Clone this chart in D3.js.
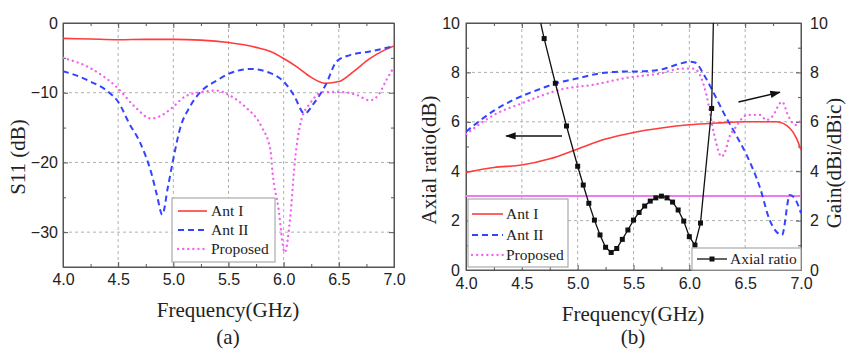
<!DOCTYPE html>
<html><head><meta charset="utf-8">
<script src="https://cdn.jsdelivr.net/npm/d3@7"></script>
<style>body{margin:0;background:#fff}svg{display:block}</style>
</head><body><svg id="c" width="848" height="352"></svg>
<script>
// ---------- Data ----------
// (a) S11 (dB)
const s11AntI_f = [4.0,4.25,4.5,4.75,5.0,5.25,5.5,5.75,5.88,6.0,6.12,6.24,6.38,6.5,6.63,6.78,6.9,7.0];
const s11AntI_v = [-2.2,-2.3,-2.4,-2.35,-2.35,-2.45,-2.8,-3.5,-4.1,-5.1,-6.3,-7.7,-8.65,-8.4,-7.0,-5.1,-4.0,-3.3];
const s11AntII_f = [4.0,4.25,4.42,4.5,4.6,4.7,4.8,4.85,4.9,4.95,5.0,5.06,5.15,5.24,5.4,5.5,5.7,5.88,6.0,6.09,6.19,6.27,6.38,6.48,6.6,6.78,7.0];
const s11AntII_v = [-6.9,-8.4,-10.0,-11.3,-14.4,-17.2,-21.5,-24.6,-27.5,-23.6,-19.5,-15.2,-12.0,-10.0,-8.2,-7.3,-6.6,-7.2,-8.4,-10.3,-13.0,-11.6,-8.9,-5.5,-4.6,-4.1,-3.3];
const s11Prop_f = [4.0,4.25,4.5,4.65,4.8,4.9,5.0,5.1,5.25,5.4,5.5,5.65,5.8,5.88,5.9,5.95,6.01,6.06,6.1,6.16,6.24,6.36,6.52,6.66,6.78,6.86,6.93,7.0];
const s11Prop_v = [-5.0,-6.5,-9.4,-12.0,-13.7,-13.2,-12.0,-10.6,-9.9,-9.7,-10.3,-12.0,-14.9,-18.2,-21.6,-26.3,-32.9,-27.8,-20.1,-13.9,-11.5,-9.9,-9.9,-10.3,-11.1,-10.3,-8.2,-6.3];

// (b) Gain (dBi/dBic)
const gAntI_f = [4.0,4.25,4.5,4.75,5.0,5.25,5.5,5.75,6.0,6.25,6.5,6.78,6.9,6.96,7.0];
const gAntI_v = [3.95,4.15,4.25,4.5,4.9,5.3,5.57,5.75,5.88,5.95,6.0,6.0,5.74,5.33,4.86];
const gAntII_f = [4.0,4.25,4.42,4.6,4.81,5.0,5.2,5.38,5.56,5.75,5.9,6.0,6.05,6.14,6.22,6.31,6.41,6.52,6.63,6.72,6.83,6.9,6.96,7.0];
const gAntII_v = [5.6,6.45,6.88,7.22,7.56,7.76,7.96,8.03,8.04,8.12,8.33,8.43,8.4,7.83,7.15,6.34,5.53,4.59,3.37,2.02,1.42,3.04,2.77,2.3];
const gProp_f = [4.0,4.25,4.5,4.69,4.84,5.14,5.44,5.74,5.93,6.04,6.15,6.22,6.29,6.32,6.36,6.41,6.52,6.63,6.69,6.74,6.83,6.89,6.95,7.0];
const gProp_v = [5.5,6.28,6.75,7.08,7.3,7.5,7.78,7.96,8.15,8.15,7.15,5.53,4.59,4.79,5.4,5.75,6.28,6.28,6.07,6.2,6.81,6.2,5.87,6.07];

// (b) Axial ratio (dB)
const arF = [4.669,4.7,4.8,4.9,5.0,5.05,5.1,5.15,5.2,5.25,5.3,5.35,5.4,5.45,5.5,5.55,5.6,5.65,5.7,5.75,5.8,5.85,5.9,5.95,6.0,6.05,6.1,6.2,6.215];
const arV = [10,9.37,7.56,5.83,4.2,3.44,2.7,2.02,1.42,0.92,0.71,0.87,1.24,1.62,2.02,2.33,2.59,2.79,2.92,2.99,2.92,2.75,2.43,1.98,1.35,1.01,1.9,6.54,10];
const arLimit = 3;

const freqTicks = [4.0,4.5,5.0,5.5,6.0,6.5,7.0];
const s11Ticks = [0,-10,-20,-30];
const arTicks = [0,2,4,6,8,10];
const legendNames = ["Ant I","Ant II","Proposed"];

// ---------- Styles ----------
const C = {red:"#ff3b3b", blue:"#3344ff", pink:"#f25ff2", black:"#111"};
const serif = "'Liberation Serif','Times New Roman',serif";
const sans = "'Liberation Sans',Arial,sans-serif";
const svg = d3.select("#c");

function zip(f,v){return f.map((x,i)=>[x,v[i]]);}

function panel(o){
  const x = d3.scaleLinear().domain([4,7]).range([o.x0,o.x1]);
  const y = d3.scaleLinear().domain(o.yDomain).range([o.y1,o.y0]);
  const g = svg.append("g");
  const id = "clip"+o.name;
  svg.append("clipPath").attr("id",id).append("rect")
    .attr("x",o.x0).attr("y",o.y0).attr("width",o.x1-o.x0).attr("height",o.y1-o.y0);
  const gx = freqTicks.filter(t=>t>4&&t<7);
  g.selectAll(".gx").data(gx).join("line")
    .attr("x1",d=>x(d)).attr("x2",d=>x(d)).attr("y1",o.y0).attr("y2",o.y1)
    .attr("stroke","#b0b0b0").attr("stroke-dasharray","3,3").attr("stroke-width",1);
  const gy = o.yTicks.filter(t=>t>o.yDomain[0]&&t<o.yDomain[1]);
  g.selectAll(".gy").data(gy).join("line")
    .attr("y1",d=>y(d)).attr("y2",d=>y(d)).attr("x1",o.x0).attr("x2",o.x1)
    .attr("stroke","#b0b0b0").attr("stroke-dasharray","3,3").attr("stroke-width",1);
  const axB = d3.axisBottom(x).tickValues(freqTicks).tickFormat(d3.format(".1f")).tickSizeInner(-5).tickSizeOuter(0).tickPadding(o.padB);
  const axT = d3.axisTop(x).tickValues(freqTicks).tickFormat("").tickSizeInner(-5).tickSizeOuter(0);
  const axL = d3.axisLeft(y).tickValues(o.yTicks).tickFormat(d3.format("d")).tickSizeInner(-5).tickSizeOuter(0).tickPadding(o.padL);
  const axR = d3.axisRight(y).tickValues(o.yTicks).tickFormat(o.rightLabels?d3.format("d"):"").tickSizeInner(-5).tickSizeOuter(0).tickPadding(9);
  const minorX = d3.range(4.25,7,0.5);
  const minorY = o.minorY;
  const mB = d3.axisBottom(x).tickValues(minorX).tickFormat("").tickSizeInner(-3).tickSizeOuter(0);
  const mT = d3.axisTop(x).tickValues(minorX).tickFormat("").tickSizeInner(-3).tickSizeOuter(0);
  const mL = d3.axisLeft(y).tickValues(minorY).tickFormat("").tickSizeInner(-3).tickSizeOuter(0);
  const mR = d3.axisRight(y).tickValues(minorY).tickFormat("").tickSizeInner(-3).tickSizeOuter(0);
  const add=(ax,tr)=>{const a=g.append("g").attr("transform",tr).call(ax);
    a.select(".domain").attr("stroke","#555");a.selectAll(".tick line").attr("stroke","#555");
    a.selectAll("text").attr("font-family",sans).attr("font-size",16).attr("fill","#222");return a;};
  add(axB,`translate(0,${o.y1})`); add(axT,`translate(0,${o.y0})`);
  add(axL,`translate(${o.x0},0)`); add(axR,`translate(${o.x1},0)`);
  add(mB,`translate(0,${o.y1})`); add(mT,`translate(0,${o.y0})`);
  add(mL,`translate(${o.x0},0)`); add(mR,`translate(${o.x1},0)`);
  g.append("rect").attr("x",o.x0).attr("y",o.y0).attr("width",o.x1-o.x0).attr("height",o.y1-o.y0)
    .attr("fill","none").attr("stroke","#555").attr("stroke-width",1);
  const plot = svg.append("g").attr("clip-path",`url(#${id})`);
  return {x,y,g,plot};
}

const line = (x,y,curve)=>d3.line().x(d=>x(d[0])).y(d=>y(d[1])).curve(curve||d3.curveMonotoneX);
const styles = [
  {stroke:C.red, width:1.6, dash:null, cap:"butt"},
  {stroke:C.blue, width:2, dash:"6,4", cap:"butt"},
  {stroke:C.pink, width:2.3, dash:"0.1,5", cap:"round"}
];
function drawSeries(p, series){
  series.forEach((s,i)=>{
    p.plot.append("path").datum(s).attr("d",line(p.x,p.y))
      .attr("fill","none").attr("stroke",styles[i].stroke).attr("stroke-width",styles[i].width)
      .attr("stroke-dasharray",styles[i].dash).attr("stroke-linecap",styles[i].cap);
  });
}
function legend(x0,y0,w,h,rows,lineX0,lineX1,textX,fs){
  svg.append("rect").attr("x",x0).attr("y",y0).attr("width",w).attr("height",h)
    .attr("fill","#fff").attr("stroke","#aaa").attr("stroke-width",1.2);
  legendNames.forEach((n,i)=>{
    svg.append("line").attr("x1",lineX0).attr("x2",lineX1).attr("y1",rows[i]).attr("y2",rows[i])
      .attr("stroke",styles[i].stroke).attr("stroke-width",styles[i].width)
      .attr("stroke-dasharray",styles[i].dash).attr("stroke-linecap",styles[i].cap);
    svg.append("text").attr("x",textX).attr("y",rows[i]+5).text(n)
      .attr("font-family",serif).attr("font-size",fs).attr("fill","#222");
  });
}

// ---------- Panel (a) ----------
const pa = panel({name:"a",x0:63,x1:394,y0:23,y1:267,yDomain:[-35,0],yTicks:s11Ticks,minorY:[-5,-15,-25],rightLabels:false,padB:7,padL:5});
drawSeries(pa,[zip(s11AntI_f,s11AntI_v),zip(s11AntII_f,s11AntII_v),zip(s11Prop_f,s11Prop_v)]);
legend(172,198,103,64,[211,230,249],178,207,211,15.5);
svg.append("text").attr("transform","translate(25,157) rotate(-90)").attr("text-anchor","middle")
  .attr("font-family",serif).attr("font-size",21).attr("fill","#222").text("S11 (dB)");
svg.append("text").attr("x",228).attr("y",317).attr("text-anchor","middle")
  .attr("font-family",serif).attr("font-size",21).attr("fill","#222").text("Frequency(GHz)");
svg.append("text").attr("x",228).attr("y",344).attr("text-anchor","middle")
  .attr("font-family",serif).attr("font-size",21).attr("fill","#222").text("(a)");

// ---------- Panel (b) ----------
const pb = panel({name:"b",x0:466,x1:801,y0:23,y1:270,yDomain:[0,10],yTicks:arTicks,minorY:[1,3,5,7,9],rightLabels:true,padB:8,padL:6});
pb.plot.append("line").attr("x1",pb.x(4)).attr("x2",pb.x(7)).attr("y1",pb.y(arLimit)).attr("y2",pb.y(arLimit))
  .attr("stroke","#f07af0").attr("stroke-width",2);
drawSeries(pb,[zip(gAntI_f,gAntI_v),zip(gAntII_f,gAntII_v),zip(gProp_f,gProp_v)]);
const arData = zip(arF,arV);
pb.plot.append("path").datum(arData).attr("d",line(pb.x,pb.y,d3.curveLinear))
  .attr("fill","none").attr("stroke",C.black).attr("stroke-width",1.3);
pb.plot.selectAll(".mk").data(arData.filter(d=>d[1]<9.99)).join("rect")
  .attr("x",d=>pb.x(d[0])-2.5).attr("y",d=>pb.y(d[1])-2.5).attr("width",5).attr("height",5).attr("fill",C.black);
legend(468,199,100,68,[214,235,255],472,503,506,15.5);
svg.append("rect").attr("x",692).attr("y",248).attr("width",109).attr("height",22)
  .attr("fill","#fff").attr("stroke","#aaa").attr("stroke-width",1.2);
svg.append("line").attr("x1",697).attr("x2",727).attr("y1",259).attr("y2",259).attr("stroke",C.black).attr("stroke-width",1.3);
svg.append("rect").attr("x",709.5).attr("y",256.5).attr("width",5).attr("height",5).attr("fill",C.black);
svg.append("text").attr("x",730).attr("y",264).text("Axial ratio")
  .attr("font-family",serif).attr("font-size",15.5).attr("fill","#222");
svg.append("defs").append("marker").attr("id","ah").attr("viewBox","0 0 10 10").attr("refX",9).attr("refY",5)
  .attr("markerWidth",7).attr("markerHeight",7).attr("orient","auto")
  .append("path").attr("d","M0,1.5 L10,5 L0,8.5 Z").attr("fill","#111");
const arrows = [[[4.86,5.43],[4.36,5.43]],[[6.44,6.8],[6.81,7.2]]];
arrows.forEach(a=>{
  svg.append("line").attr("x1",pb.x(a[0][0])).attr("y1",pb.y(a[0][1])).attr("x2",pb.x(a[1][0])).attr("y2",pb.y(a[1][1]))
    .attr("stroke","#111").attr("stroke-width",1.5).attr("marker-end","url(#ah)");
});
svg.append("text").attr("transform","translate(436,160) rotate(-90)").attr("text-anchor","middle")
  .attr("font-family",serif).attr("font-size",21).attr("fill","#222").text("Axial ratio(dB)");
svg.append("text").attr("transform","translate(841,163) rotate(-90)").attr("text-anchor","middle")
  .attr("font-family",serif).attr("font-size",21).attr("fill","#222").text("Gain(dBi/dBic)");
svg.append("text").attr("x",633).attr("y",321).attr("text-anchor","middle")
  .attr("font-family",serif).attr("font-size",21).attr("fill","#222").text("Frequency(GHz)");
svg.append("text").attr("x",633).attr("y",344).attr("text-anchor","middle")
  .attr("font-family",serif).attr("font-size",21).attr("fill","#222").text("(b)");
</script></body></html>
